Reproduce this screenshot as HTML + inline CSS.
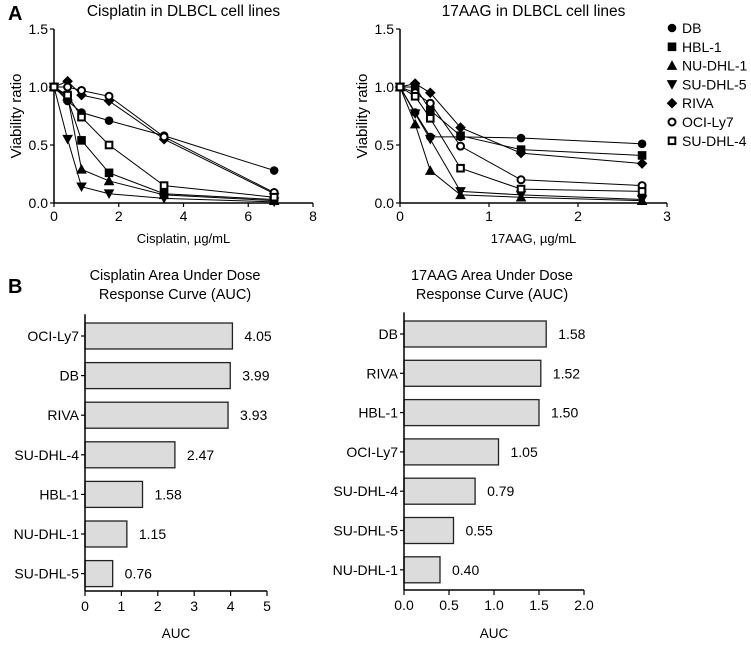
<!DOCTYPE html>
<html><head><meta charset="utf-8"><style>
body{margin:0;background:#fff;}
svg{font-family:"Liberation Sans",Arial,sans-serif;}
</style></head><body>
<svg id="c" width="751" height="644" viewBox="0 0 751 644" xmlns="http://www.w3.org/2000/svg"></svg>
<script>
const seriesNames=["DB","HBL-1","NU-DHL-1","SU-DHL-5","RIVA","OCI-Ly7","SU-DHL-4"];
const markers=["circle","square","tri","tridown","diamond","ocircle","osquare"];
const cisDoses=[0,0.42,0.85,1.7,3.4,6.8];
const cisDB=[1,0.88,0.78,0.71,0.58,0.28];
const cisHBL=[1,0.9,0.54,0.26,0.08,0.03];
const cisNU=[1,0.92,0.29,0.19,0.07,0.02];
const cisSU5=[1,0.55,0.14,0.08,0.04,0.01];
const cisRIVA=[1,1.05,0.93,0.88,0.55,0.08];
const cisOCI=[1,1.0,0.97,0.92,0.57,0.09];
const cisSU4=[1,0.93,0.74,0.5,0.15,0.05];
const aagDoses=[0,0.17,0.34,0.68,1.36,2.72];
const aagDB=[1,0.78,0.57,0.57,0.56,0.51];
const aagHBL=[1,1.0,0.8,0.58,0.46,0.41];
const aagNU=[1,0.68,0.28,0.07,0.05,0.02];
const aagSU5=[1,0.77,0.55,0.1,0.07,0.03];
const aagRIVA=[1,1.03,0.95,0.65,0.43,0.34];
const aagOCI=[1,0.95,0.86,0.49,0.2,0.15];
const aagSU4=[1,0.92,0.73,0.3,0.12,0.1];
const yTicks=[0,0.5,1.0,1.5];
const cisXTicks=[0,2,4,6,8];
const aagXTicks=[0,1,2,3];
const cisAucNames=["OCI-Ly7","DB","RIVA","SU-DHL-4","HBL-1","NU-DHL-1","SU-DHL-5"];
const cisAucVals=[4.05,3.99,3.93,2.47,1.58,1.15,0.76];
const aagAucNames=["DB","RIVA","HBL-1","OCI-Ly7","SU-DHL-4","SU-DHL-5","NU-DHL-1"];
const aagAucVals=[1.58,1.52,1.50,1.05,0.79,0.55,0.40];
const cisAucTicks=[0,1,2,3,4,5];
const aagAucTicks=[0,0.5,1.0,1.5,2.0];

const svg=document.getElementById('c');
const NS="http://www.w3.org/2000/svg";
function el(tag,attrs,parent){const e=document.createElementNS(NS,tag);for(const k in attrs)e.setAttribute(k,attrs[k]);(parent||svg).appendChild(e);return e;}
function txt(x,y,s,size,anchor,parent,extra){const t=el('text',Object.assign({x:x,y:y,'font-size':size,'text-anchor':anchor||'middle',fill:'#000'},extra||{}),parent);t.textContent=s;return t;}
function marker(type,x,y,g){const r=4.3;let m;
 if(type=="circle")m=el('circle',{cx:x,cy:y,r:r,fill:'#000'},g);
 else if(type=="ocircle")m=el('circle',{cx:x,cy:y,r:r-0.8,fill:'#fff',stroke:'#000','stroke-width':2},g);
 else if(type=="square")m=el('rect',{x:x-r,y:y-r,width:2*r,height:2*r,fill:'#000'},g);
 else if(type=="osquare")m=el('rect',{x:x-r+1,y:y-r+1,width:2*r-2,height:2*r-2,fill:'#fff',stroke:'#000','stroke-width':2},g);
 else if(type=="tri")m=el('polygon',{points:`${x},${y-r-1} ${x-r-1},${y+r} ${x+r+1},${y+r}`,fill:'#000'},g);
 else if(type=="tridown")m=el('polygon',{points:`${x},${y+r+1} ${x-r-1},${y-r} ${x+r+1},${y-r}`,fill:'#000'},g);
 else m=el('polygon',{points:`${x},${y-r-1} ${x+r+1},${y} ${x},${y+r+1} ${x-r-1},${y}`,fill:'#000'},g);
 
 
 return m;}

function lineChart(name,x0,x1,xmax,xTicks,doses,series,title,xlabel){
 const g=el('g',{});
 
 
 const yTop=29,yBot=203;
 const X=v=>x0+(x1-x0)*v/xmax, Y=v=>yBot-(yBot-yTop)*v/1.5;
 el('line',{x1:x0,y1:yTop,x2:x0,y2:yBot,stroke:'#000','stroke-width':1.5},g);
 el('line',{x1:x0,y1:yBot,x2:x1,y2:yBot,stroke:'#000','stroke-width':1.5},g);
 yTicks.forEach(t=>{el('line',{x1:x0-4,y1:Y(t),x2:x0,y2:Y(t),stroke:'#000','stroke-width':1.2},g);
  const l=txt(x0-6,Y(t)+5,t.toFixed(1),14,'end',g);});
 xTicks.forEach(t=>{el('line',{x1:X(t),y1:yBot,x2:X(t),y2:yBot+4,stroke:'#000','stroke-width':1.2},g);
  const l=txt(X(t),yBot+18,String(t),14,'middle',g);});
 const tt=txt((x0+x1)/2,16,title,15.5,'middle',g);
 const xl=txt((x0+x1)/2,243,xlabel,13,'middle',g);
 const yl=txt(0,0,'Viability ratio',15,'middle',g,{transform:`translate(${x0-33},${(yTop+yBot)/2}) rotate(-90)`});
 series.forEach((vals,i)=>{
  const pts=vals.map((v,j)=>X(doses[j])+','+Y(v)).join(' ');
  const pl=el('polyline',{points:pts,fill:'none',stroke:'#000','stroke-width':1},g);
  
  
 });
 series.forEach((vals,i)=>vals.forEach((v,j)=>marker(markers[i],X(doses[j]),Y(v),g)));
}
lineChart('cisplatin-viability-chart',54,313,8,cisXTicks,cisDoses,[cisDB,cisHBL,cisNU,cisSU5,cisRIVA,cisOCI,cisSU4],'Cisplatin in DLBCL cell lines','Cisplatin, µg/mL');
lineChart('17aag-viability-chart',400,667,3,aagXTicks,aagDoses,[aagDB,aagHBL,aagNU,aagSU5,aagRIVA,aagOCI,aagSU4],'17AAG in DLBCL cell lines','17AAG, µg/mL');

const a=txt(8,20,'A',20,'start',null,{'font-weight':'bold'});
const b=txt(8,293,'B',20,'start',null,{'font-weight':'bold'});

const lg=el('g',{});


seriesNames.forEach((n,i)=>{const y=28+i*18.8;marker(markers[i],672,y,lg);
 const t=txt(682,y+5,n,14,'start',lg);});

function barChart(name,x0,x1,xmax,ticks,names,vals,cy0,step,axisY,title,tx,tickFmt){
 const g=el('g',{});
 
 
 const X=v=>x0+(x1-x0)*v/xmax;
 const t1=txt(tx,280,title[0],14.5,'middle',g);
 txt(tx,299,title[1],14.5,'middle',g);
 names.forEach((n,i)=>{const cy=cy0+i*step;
  const r=el('rect',{x:x0,y:cy-13,width:X(vals[i])-x0,height:26,fill:'#dcdcdc',stroke:'#222','stroke-width':1.3},g);
  
  
  const v=txt(X(vals[i])+12,cy+5,vals[i].toFixed(2),14,'start',g);
  el('line',{x1:x0-4,y1:cy,x2:x0,y2:cy,stroke:'#000','stroke-width':1.2},g);
  const l=txt(x0-6,cy+5,n,14,'end',g);
 });
 el('line',{x1:x0,y1:cy0-step/2-2,x2:x0,y2:axisY,stroke:'#000','stroke-width':1.5},g);
 el('line',{x1:x0,y1:axisY,x2:x1,y2:axisY,stroke:'#000','stroke-width':1.5},g);
 ticks.forEach(t=>{el('line',{x1:X(t),y1:axisY,x2:X(t),y2:axisY+5,stroke:'#000','stroke-width':1.2},g);
  const l=txt(X(t),axisY+20,tickFmt(t),14,'middle',g);});
 const xl=txt((x0+x1)/2,638,'AUC',13.5,'middle',g);
}
barChart('cisplatin-auc-chart',85,267,5,cisAucTicks,cisAucNames,cisAucVals,336,39.6,591,['Cisplatin Area Under Dose','Response Curve (AUC)'],175,t=>String(t));
barChart('17aag-auc-chart',404,584,2,aagAucTicks,aagAucNames,aagAucVals,334,39.3,590,['17AAG Area Under Dose','Response Curve (AUC)'],492,t=>t.toFixed(1));
</script>
</body></html>
